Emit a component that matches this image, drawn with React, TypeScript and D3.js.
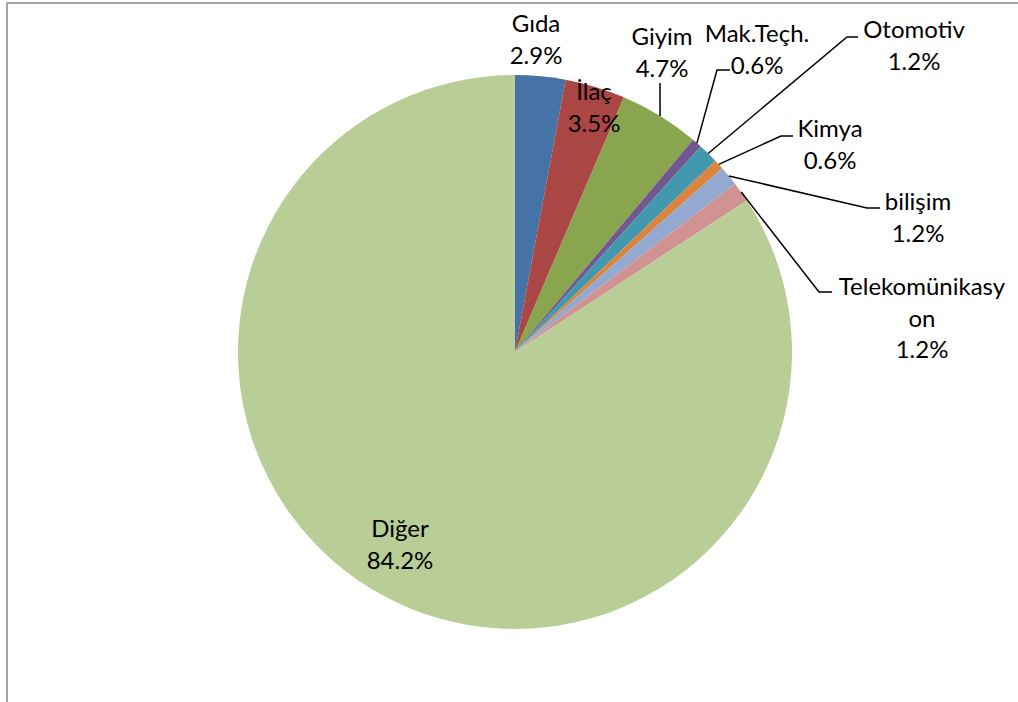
import React from "react";
import * as d3 from "d3";

const categories = ["Gıda", "İlaç", "Giyim", "Mak.Teçh.", "Otomotiv", "Kimya", "bilişim", "Telekomünikasyon", "Diğer"];
const counts = [5, 6, 8, 1, 2, 1, 2, 2, 144];
const colors = ["#4572A7", "#AA4643", "#89A54E", "#71588F", "#4198AF", "#DB843D", "#93A9CF", "#D19392", "#B9CD96"];

// label layout: text anchor (center x, first baseline y), wrapped name lines, leader elbow/end
const labelLayout = [
  { x: 536, y: 32, name: ["Gıda"], leader: null },
  { x: 594, y: 100, name: ["İlaç"], leader: null },
  { x: 662, y: 45, name: ["Giyim"], leader: [[660, 83]] },
  { x: 757, y: 42, name: ["Mak.Teçh."], leader: [[717, 70], [730, 70]] },
  { x: 914, y: 38, name: ["Otomotiv"], leader: [[847, 37], [858, 37]] },
  { x: 830, y: 137, name: ["Kimya"], leader: [[781, 136], [793, 136]] },
  { x: 918, y: 210, name: ["bilişim"], leader: [[867, 208], [880, 208]] },
  { x: 922, y: 295, name: ["Telekomünikasy", "on"], leader: [[819, 292], [832, 292]] },
  { x: 400, y: 537, name: ["Diğer"], leader: null },
];

const W = 1018, H = 702;
const cx = 515, cy = 352, R = 277;
const lineH = 31.5;

export default function App() {
  const total = d3.sum(counts);
  const pie = d3.pie<number>().sort(null).value((d) => d)(counts);
  const arc = d3.arc<d3.PieArcDatum<number>>().innerRadius(0).outerRadius(R);
  const fmt = d3.format(".1%");
  const line = d3.line();

  return (
    <svg width={W} height={H} style={{ position: "absolute", left: 0, top: 0, background: "#fff" }}
      fontFamily="Lato, 'Open Sans', sans-serif">
      <rect x={7} y={3} width={W + 20} height={H + 20} fill="#fff" stroke="#8e8e8e" strokeWidth={1.6} />
      <g transform={`translate(${cx},${cy})`}>
        {pie.map((p, i) => (
          <path key={categories[i]} d={arc(p) || ""} fill={colors[i]} />
        ))}
      </g>
      {pie.map((p, i) => {
        const lay = labelLayout[i];
        if (!lay.leader) return null;
        const mid = (p.startAngle + p.endAngle) / 2;
        const start: [number, number] = [cx + R * Math.sin(mid), cy - R * Math.cos(mid)];
        const pts = [start, ...(lay.leader as [number, number][])];
        return <path key={"l" + i} d={line(pts) || ""} fill="none" stroke="#000" strokeWidth={1.5} />;
      })}
      {pie.map((p, i) => {
        const lay = labelLayout[i];
        const lines = [...lay.name, fmt(counts[i] / total)];
        return (
          <text key={"t" + i} x={lay.x} y={lay.y} textAnchor="middle" fontSize={24} fill="#000">
            {lines.map((t, j) => (
              <tspan key={j} x={lay.x} y={lay.y + j * lineH}>{t}</tspan>
            ))}
          </text>
        );
      })}
    </svg>
  );
}
